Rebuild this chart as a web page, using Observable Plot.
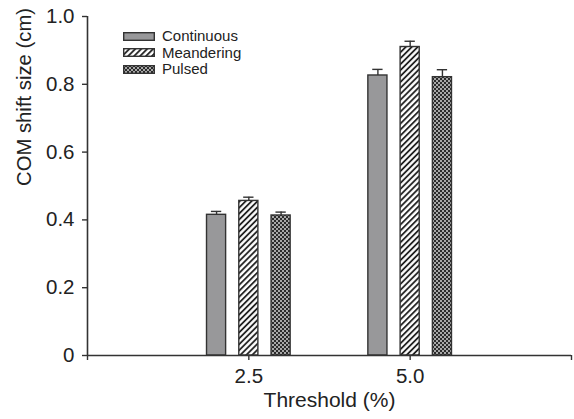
<!DOCTYPE html>
<html>
<head>
<meta charset="utf-8">
<script src="https://cdn.jsdelivr.net/npm/d3@7"></script>
<script src="https://cdn.jsdelivr.net/npm/@observablehq/plot@0.6"></script>
<style>
  html, body { margin: 0; padding: 0; background: #fff; }
  #wrap { position: relative; width: 574px; height: 419px; font-family: "Liberation Sans", Arial, sans-serif; color: #222; }
  #legend { position: absolute; left: 123px; top: 28px; font-size: 15px; line-height: 16.5px; }
  #legend .row { display: flex; align-items: center; height: 16.5px; }
  #legend svg { margin-right: 7px; }
</style>
</head>
<body>
<svg width="0" height="0" style="position:absolute">
  <defs>
    <pattern id="hatch" patternUnits="userSpaceOnUse" width="4.2" height="4.2" patternTransform="rotate(45)">
      <rect width="4.2" height="4.2" fill="#fff"></rect>
      <line x1="1" y1="0" x2="1" y2="4.2" stroke="#111" stroke-width="1.7"></line>
    </pattern>
    <pattern id="check" patternUnits="userSpaceOnUse" width="4" height="4">
      <rect width="4" height="4" fill="#2b2b2b"></rect>
      <rect x="0" y="0" width="2" height="2" fill="#a8a8a8"></rect>
      <rect x="2" y="2" width="2" height="2" fill="#a8a8a8"></rect>
    </pattern>
  </defs>
</svg>
<div id="wrap"></div>
<script>
// ---- data ----
const thresholds = [2.5, 5.0];
const seriesNames = ["Continuous", "Meandering", "Pulsed"];
const continuousMean = [0.415, 0.826];
const meanderingMean = [0.456, 0.910];
const pulsedMean = [0.413, 0.821];
const continuousErr = [0.010, 0.018];
const meanderingErr = [0.011, 0.017];
const pulsedErr = [0.010, 0.022];
const yTicks = [0, 0.2, 0.4, 0.6, 0.8, 1.0];
const xTicks = [0, 2.5, 5.0, 7.5];
const xTickLabels = ["", "2.5", "5.0", ""];
const xLabel = "Threshold (%)";
const yLabel = "COM shift size (cm)";

// ---- styling / layout ----
const fills = ["#98989a", "url(#hatch)", "url(#check)"];
const offsets = [-0.5, 0, 0.5];
const half = 0.148;
const capHalf = 0.08;
const ink = "#333";

const means = [continuousMean, meanderingMean, pulsedMean];
const errs = [continuousErr, meanderingErr, pulsedErr];
const rows = [];
seriesNames.forEach((s, i) => thresholds.forEach((t, j) => {
  rows.push({series: s, si: i, x: t + offsets[i], value: means[i][j], err: errs[i][j]});
}));

const barMarks = seriesNames.map((s, i) =>
  Plot.rectY(rows.filter(d => d.si === i), {
    x1: d => d.x - half, x2: d => d.x + half, y1: 0, y2: "value",
    fill: fills[i], stroke: ink, strokeWidth: 1.4
  })
);

const plot = Plot.plot({
  width: 574,
  height: 419,
  marginTop: 16,
  marginLeft: 87,
  marginRight: 3,
  marginBottom: 64,
  style: {fontFamily: "Liberation Sans, Arial, sans-serif", fontSize: "20px", color: "#222", background: "#fff", overflow: "visible"},
  x: {domain: [0, 7.5], axis: null},
  y: {domain: [0, 1], axis: null},
  marks: [
    Plot.ruleX(rows, {x: "x", y1: "value", y2: d => d.value + d.err, stroke: ink, strokeWidth: 1.4}),
    Plot.ruleY(rows, {y: d => d.value + d.err, x1: d => d.x - capHalf, x2: d => d.x + capHalf, stroke: ink, strokeWidth: 1.4}),
    ...barMarks,
    Plot.axisY(yTicks, {tickSize: 5, tickPadding: 8, tickFormat: d => d === 0 ? "0" : d.toFixed(1), label: null, stroke: ink, strokeWidth: 1.4, fontSize: 20.5}),
    Plot.axisX(xTicks, {tickSize: 5, tickPadding: 8, tickFormat: (d, i) => xTickLabels[xTicks.indexOf(d)], label: null, stroke: ink, strokeWidth: 1.4, fontSize: 20.5}),
    Plot.ruleY([0], {stroke: ink, strokeWidth: 1.6}),
    Plot.ruleX([0], {stroke: ink, strokeWidth: 1.6}),
    Plot.text([xLabel], {frameAnchor: "bottom", dy: 51, fontSize: 21, fill: "#222"}),
    Plot.text([yLabel], {frameAnchor: "left", rotate: -90, dx: -63, fontSize: 20.3, fill: "#222"})
  ]
});

const wrap = document.getElementById("wrap");
wrap.appendChild(plot);

// legend
const legend = document.createElement("div");
legend.id = "legend";
seriesNames.forEach((s, i) => {
  const row = document.createElement("div");
  row.className = "row";
  row.innerHTML = `<svg width="32" height="9"><rect x="0.7" y="0.7" width="30.6" height="7.6" fill="${fills[i]}" stroke="${ink}" stroke-width="1.4"></rect></svg><span>${s}</span>`;
  legend.appendChild(row);
});
wrap.appendChild(legend);
</script>
</body>
</html>
